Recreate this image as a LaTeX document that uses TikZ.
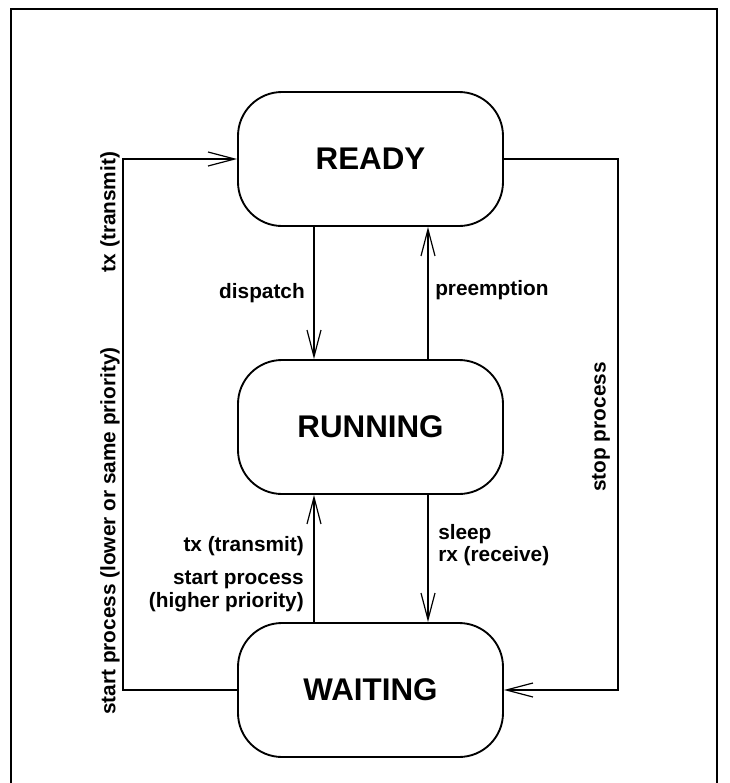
\documentclass[tikz,border=0pt]{standalone}
\usepackage{fontspec}
\setmainfont{Liberation Sans}
\usetikzlibrary{arrows.meta, positioning, calc}

\begin{document}
\begin{tikzpicture}[x=0.75pt,y=-0.75pt,
		state/.style={draw,line width=1.4pt,rounded corners=33pt,minimum width=198.75pt,minimum height=100.5pt,font=\fontsize{23.5}{26}\selectfont\bfseries},
		lbl/.style={inner sep=0pt,font=\fontsize{15.6}{17}\selectfont\bfseries},
		arr/.style={-{Straight Barb[length=20pt,width=10.5pt,line width=0.9pt]},line width=1.1pt}
	]
	\path[use as bounding box,clip] (0,0) rectangle (730,783);
	\draw[line width=1.9pt] (11,9) rectangle (717,820);
	\node[state] (ready) at (370.5,159) {READY};
	\node[state] (running) at (370.5,427) {RUNNING};
	\node[state] (waiting) at (370.5,690) {WAITING};
	\draw[arr] ($(ready.south)+(-56.5,0)$) -- ($(running.north)+(-56.5,0)$);
	\draw[arr] ($(running.north)+(57.5,0)$) -- ($(ready.south)+(57.5,0)$);
	\draw[arr] ($(running.south)+(57.5,0)$) -- ($(waiting.north)+(57.5,0)$);
	\draw[arr] ($(waiting.north)+(-56.5,0)$) -- ($(running.south)+(-56.5,0)$);
	\draw[arr] (waiting.west) -- ++(-114,0) |- (ready.west);
	\draw[arr] (ready.east) -- ++(114,0) |- (waiting.east);
	\node[lbl,anchor=east] (dispatch) at (305,293) {dispatch};
	\node[lbl,anchor=west] (preempt) at (435,290) {preemption};
	\node[lbl,anchor=west,align=left] (sleep) at (438,545) {sleep\\rx (receive)};
	\node[lbl,anchor=east,align=right] (txrun) at (304,574) {tx (transmit)\\[8pt]start process\\(higher priority)};
	\node[lbl,rotate=90] (txready) at (110,212) {tx (transmit)};
	\node[lbl,rotate=90] (startlow) at (110,531) {start process (lower or same priority)};
	\node[lbl,rotate=90] (stop) at (601,427) {stop process};
\end{tikzpicture}
\end{document}
